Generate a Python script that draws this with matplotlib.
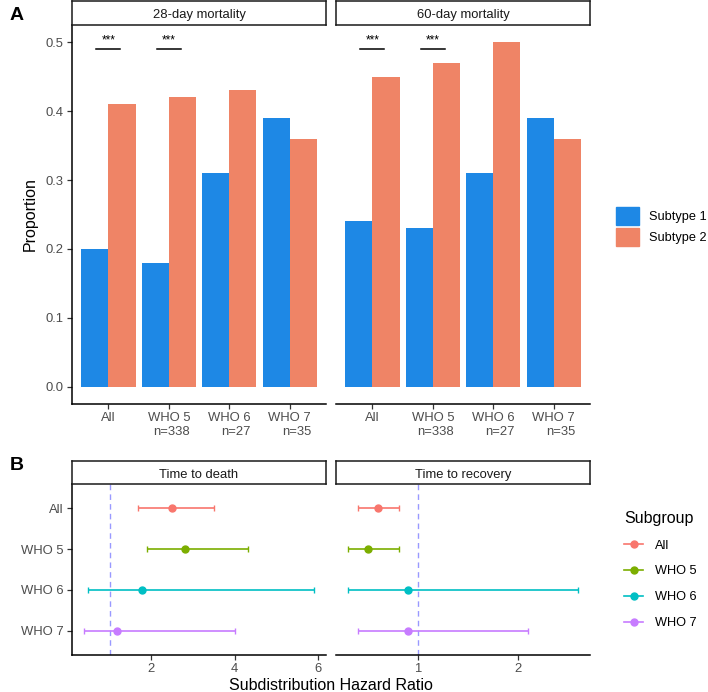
import numpy as np
import matplotlib
matplotlib.use("Agg")
import matplotlib.pyplot as plt
from matplotlib.lines import Line2D
from matplotlib.patches import Patch

plt.rcParams['font.family'] = ['Liberation Sans', 'DejaVu Sans']

# ---- data: panel A (mortality proportions) ----
groups = ['All', 'WHO 5\nn=338', 'WHO 6\nn=27', 'WHO 7\nn=35']
outcomes = ['28-day mortality', '60-day mortality']
subtype1 = {'28-day mortality': [0.20, 0.18, 0.31, 0.39],
            '60-day mortality': [0.24, 0.23, 0.31, 0.39]}
subtype2 = {'28-day mortality': [0.41, 0.42, 0.43, 0.36],
            '60-day mortality': [0.45, 0.47, 0.50, 0.36]}
sig_labels = ['***', '***', '', '']
sig_y = 0.49

# ---- data: panel B (subdistribution hazard ratios) ----
subgroups = ['All', 'WHO 5', 'WHO 6', 'WHO 7']
endpoints = ['Time to death', 'Time to recovery']
shr = {'Time to death': [2.5, 2.8, 1.79, 1.19],
       'Time to recovery': [0.605, 0.506, 0.90, 0.90]}
shr_lo = {'Time to death': [1.68, 1.89, 0.49, 0.38],
          'Time to recovery': [0.40, 0.30, 0.30, 0.40]}
shr_hi = {'Time to death': [3.5, 4.31, 5.91, 4.0],
          'Time to recovery': [0.81, 0.81, 2.60, 2.10]}

blue = '#1E88E5'
orange = '#EF8466'
sub_colors = ['#F8766D', '#7CAE00', '#00BFC4', '#C77CFF']
tick_col = '#4D4D4D'

W, H = 708, 692
fig = plt.figure(figsize=(W / 100, H / 100), dpi=100)


def px_axes(x0, y0, x1, y1):
    return fig.add_axes([x0 / W, 1 - y1 / H, (x1 - x0) / W, (y1 - y0) / H])


def strip(x0, y0, x1, y1, label):
    s = px_axes(x0, y0, x1, y1)
    s.set_xticks([])
    s.set_yticks([])
    for sp in s.spines.values():
        sp.set_linewidth(1.1)
        sp.set_color('#1A1A1A')
    s.text(0.5, 0.47, label, ha='center', va='center_baseline', fontsize=9.4,
           color='#1A1A1A', transform=s.transAxes)


def style(ax, show_y):
    for k in ['top', 'right']:
        ax.spines[k].set_visible(False)
    ax.spines['bottom'].set_linewidth(1.1)
    ax.spines['left'].set_linewidth(1.1)
    ax.tick_params(axis='both', labelsize=9.4, colors=tick_col, length=3.5, width=0.9,
                   pad=2.5)
    ax.tick_params(axis='both', color='#333333')
    if not show_y:
        ax.spines['left'].set_visible(False)
        ax.tick_params(axis='y', left=False, labelleft=False)


# =============================================================================
# Panel A
# =============================================================================
xA = [(72, 326), (336, 590)]
x = np.arange(1, len(groups) + 1)
for i, outc in enumerate(outcomes):
    ax = px_axes(xA[i][0], 25, xA[i][1], 404)
    ax.bar(x - 0.225, subtype1[outc], width=0.45, color=blue)
    ax.bar(x + 0.225, subtype2[outc], width=0.45, color=orange)
    for j, lab in enumerate(sig_labels):
        if lab:
            ax.plot([x[j] - 0.2, x[j] + 0.2], [sig_y, sig_y], color='black', lw=1.1)
            ax.text(x[j], sig_y + 0.004, lab, ha='center', va='bottom', fontsize=8.5)
    ax.set_xlim(0.4, 4.6)
    ax.set_ylim(-0.025, 0.525)
    ax.set_xticks(x)
    ax.set_xticklabels(groups, multialignment='right')
    ax.set_yticks(np.arange(0, 0.51, 0.1))
    ax.set_yticklabels(['%.1f' % v for v in np.arange(0, 0.51, 0.1)])
    style(ax, i == 0)
    if i == 0:
        ax.set_ylabel('Proportion', fontsize=11.5, labelpad=6)
    strip(xA[i][0], 1, xA[i][1], 25, outc)

fig.legend(handles=[Patch(color=blue, label='Subtype 1'), Patch(color=orange, label='Subtype 2')],
           loc='center left', bbox_to_anchor=(616 / W, 1 - 226.5 / H), frameon=False,
           fontsize=9.2, handlelength=1.8, handleheight=1.8, labelspacing=0.25,
           handletextpad=0.75, borderpad=0, borderaxespad=0)

# =============================================================================
# Panel B
# =============================================================================
yB = np.arange(len(subgroups), 0, -1)
xlimsB = [(0.10, 6.19), (0.185, 2.715)]
xticksB = [[2, 4, 6], [1, 2]]
for i, ep in enumerate(endpoints):
    ax = px_axes(xA[i][0], 484, xA[i][1], 655)
    ax.axvline(1, color='#9999FF', lw=1.0, ls=(0, (4, 3)), zorder=1)
    for j in range(len(subgroups)):
        ax.errorbar(shr[ep][j], yB[j],
                    xerr=[[shr[ep][j] - shr_lo[ep][j]], [shr_hi[ep][j] - shr[ep][j]]],
                    fmt='o', color=sub_colors[j], ms=5, elinewidth=1.2, capsize=2,
                    capthick=1.0, zorder=3)
    ax.set_xlim(*xlimsB[i])
    ax.set_ylim(0.4, 4.6)
    ax.set_xticks(xticksB[i])
    ax.set_yticks(yB)
    ax.set_yticklabels(subgroups)
    style(ax, i == 0)
    strip(xA[i][0], 461, xA[i][1], 484, ep)

fig.text(331 / W, 1 - 685 / H, 'Subdistribution Hazard Ratio', ha='center', va='center',
         fontsize=11.5)

handlesB = [Line2D([0], [0], color=c, marker='o', ms=5, lw=1.2, label=s)
            for c, s in zip(sub_colors, subgroups)]
fig.legend(handles=handlesB, title='Subgroup', loc='center left',
           bbox_to_anchor=(624 / W, 1 - 570 / H), frameon=False, fontsize=9.2,
           title_fontsize=11.5, handlelength=1.5, labelspacing=1.08, handletextpad=0.9,
           borderpad=0, borderaxespad=0, alignment='left')

fig.text(10 / W, 1 - 15 / H, 'A', fontsize=14, fontweight='bold', va='center')
fig.text(10 / W, 1 - 466 / H, 'B', fontsize=14, fontweight='bold', va='center')

fig.savefig('out.png', dpi=100)
